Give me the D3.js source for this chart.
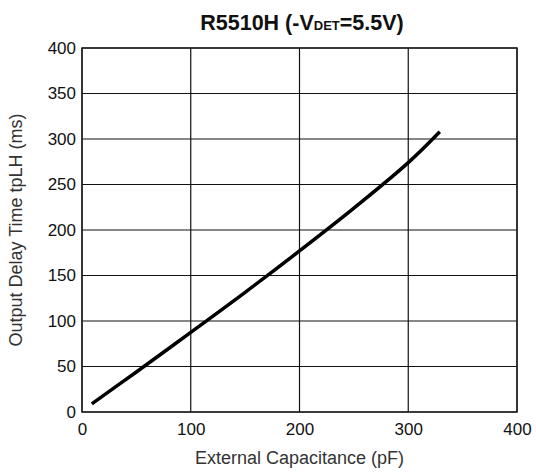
<!DOCTYPE html>
<html><head><meta charset="utf-8">
<script src="https://cdn.jsdelivr.net/npm/d3@7"></script>
<style>body{margin:0;background:#fff;} svg{display:block;}</style>
</head><body>
<svg id="c" width="536" height="472"></svg>
<script>
const capacitance = [9, 50, 100, 150, 200, 250, 300, 329];
const delayTime   = [9, 44, 87.5, 131.5, 177, 224, 274, 308];
const xTicks = [0, 100, 200, 300, 400];
const yTicks = [0, 50, 100, 150, 200, 250, 300, 350, 400];

const svg = d3.select("#c");
const m = {l: 82, r: 19, t: 48, b: 60};
const W = 536, H = 472;
const x = d3.scaleLinear().domain([0, 400]).range([m.l, W - m.r]);
const y = d3.scaleLinear().domain([0, 400]).range([H - m.b, m.t]);
const font = "'Liberation Sans', Arial, sans-serif";

// grid
svg.append("g").selectAll("line").data(xTicks).join("line")
  .attr("x1", d => x(d)).attr("x2", d => x(d)).attr("y1", y(0)).attr("y2", y(400))
  .attr("stroke", "#111").attr("stroke-width", 1.2);
svg.append("g").selectAll("line").data(yTicks).join("line")
  .attr("x1", x(0)).attr("x2", x(400)).attr("y1", d => y(d)).attr("y2", d => y(d))
  .attr("stroke", "#111").attr("stroke-width", 1.2);
svg.append("rect").attr("x", x(0)).attr("y", y(400)).attr("width", x(400) - x(0)).attr("height", y(0) - y(400))
  .attr("fill", "none").attr("stroke", "#222").attr("stroke-width", 1.5);

// axes
const xa = svg.append("g").attr("transform", `translate(0,${y(0)})`)
  .call(d3.axisBottom(x).tickValues(xTicks).tickSize(0).tickPadding(11));
const ya = svg.append("g").attr("transform", `translate(${x(0)},0)`)
  .call(d3.axisLeft(y).tickValues(yTicks).tickSize(0).tickPadding(6));
[xa, ya].forEach(a => {
  a.select(".domain").remove();
  a.selectAll("text").attr("font-family", font).attr("font-size", 17).attr("fill", "#111");
});

// curve
const pts = capacitance.map((c, i) => [c, delayTime[i]]);
svg.append("path").datum(pts)
  .attr("d", d3.line().x(d => x(d[0])).y(d => y(d[1])).curve(d3.curveCatmullRom.alpha(0.5)))
  .attr("fill", "none").attr("stroke", "#000").attr("stroke-width", 3.5).attr("stroke-linecap", "butt");

// titles
const t = svg.append("text").attr("x", 302).attr("y", 30).attr("text-anchor", "middle")
  .attr("font-family", font).attr("font-weight", "bold").attr("font-size", 21.5).attr("fill", "#111");
t.append("tspan").text("R5510H (-V");
t.append("tspan").attr("font-size", 13).text("DET");
t.append("tspan").text("=5.5V)");

svg.append("text").attr("x", (x(0) + x(400)) / 2).attr("y", 464).attr("text-anchor", "middle")
  .attr("font-family", font).attr("font-size", 18).attr("fill", "#333").text("External Capacitance (pF)");
svg.append("text").attr("transform", `translate(22,${(y(0) + y(400)) / 2}) rotate(-90)`).attr("text-anchor", "middle")
  .attr("font-family", font).attr("font-size", 18).attr("fill", "#333").text("Output Delay Time tpLH (ms)");
</script>
</body></html>
